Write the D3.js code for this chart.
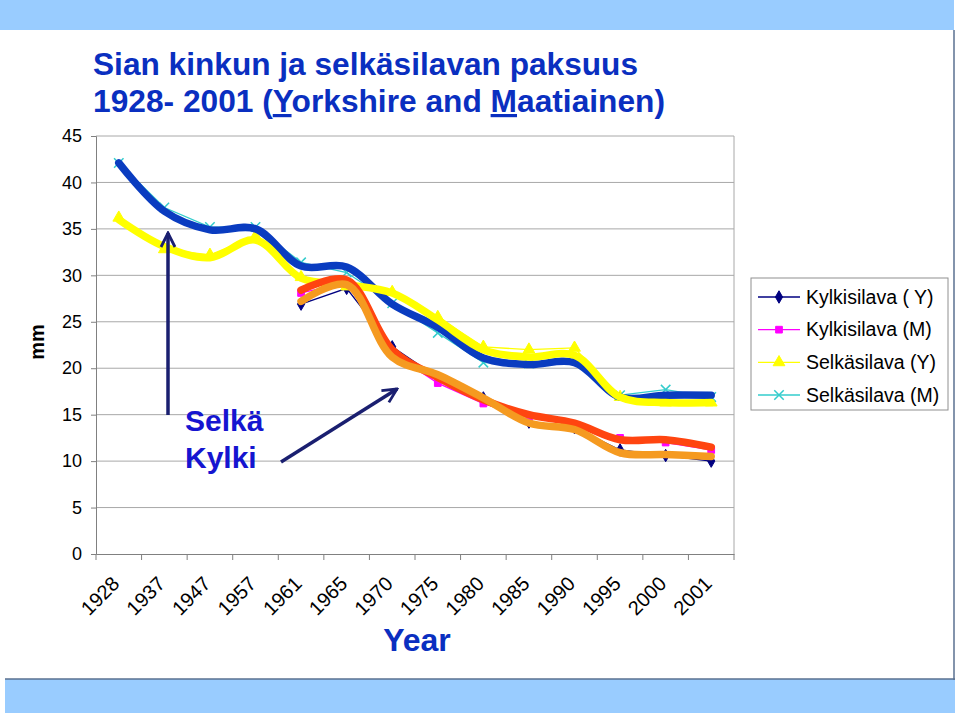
<!DOCTYPE html>
<html>
<head>
<meta charset="utf-8">
<script src="https://cdn.jsdelivr.net/npm/d3@7"></script>
<style>
  html, body { margin: 0; padding: 0; background: #ffffff; }
  svg { display: block; font-family: "Liberation Sans", Arial, sans-serif; }
</style>
</head>
<body>
<svg id="chart" width="960" height="716"></svg>
<script>
// ---------- data ----------
const years = ["1928","1937","1947","1957","1961","1965","1970","1975","1980","1985","1990","1995","2000","2001"];
const yTicks = [0,5,10,15,20,25,30,35,40,45];

// measured series (thin lines with markers)
const kylkiY  = [null,null,null,null,26.9,28.6,22.3,19.0,16.8,14.2,13.6,11.2,10.6,10.0];
const kylkiM  = [null,null,null,null,28.1,29.2,21.6,18.4,16.2,14.7,13.9,12.5,12.0,11.2];
const selkaY  = [36.2,32.8,32.2,34.2,29.8,28.8,28.2,25.5,22.3,22.0,22.2,16.9,16.3,16.3];
const selkaM  = [42.1,37.3,35.2,35.2,31.4,30.3,27.0,23.8,20.6,20.5,20.9,17.1,17.7,16.9];

// hand-drawn thick trend curves over the series
const trendSelkaM = [42.1,36.9,34.9,35.0,31.0,30.9,26.9,24.4,21.1,20.4,20.6,16.9,17.1,17.1];
const trendSelkaY = [36.0,33.1,31.9,33.8,29.7,29.0,28.1,25.2,22.0,21.2,21.4,16.9,16.3,16.3];
const trendKylkiM = [null,null,null,null,28.4,29.5,22.0,19.0,16.6,15.0,14.1,12.3,12.3,11.5];
const trendKylkiY = [null,null,null,null,27.2,29.0,21.2,19.3,16.8,14.1,13.4,10.9,10.7,10.5];

const seriesNames = ["Kylkisilava ( Y)","Kylkisilava (M)","Selkäsilava (Y)","Selkäsilava (M)"];

// ---------- drawing ----------
const svg = d3.select("#chart");

// slide frame
svg.append("rect").attr("x",0).attr("y",0).attr("width",954).attr("height",30).attr("fill","#99ccff");
svg.append("rect").attr("x",5).attr("y",679).attr("width",950).attr("height",34).attr("fill","#99ccff");
svg.append("line").attr("x1",954).attr("x2",954).attr("y1",30).attr("y2",680).attr("stroke","#5a7090").attr("stroke-width",1.5);
svg.append("line").attr("x1",5).attr("x2",955).attr("y1",679).attr("y2",679).attr("stroke","#5a7090").attr("stroke-width",1.5);

// title
const titleColor = "#0a2fc0";
svg.append("text").attr("x",93).attr("y",75).attr("fill",titleColor)
  .attr("font-size",32).attr("font-weight","bold")
  .attr("textLength",545).attr("lengthAdjust","spacingAndGlyphs")
  .text("Sian kinkun ja selkäsilavan paksuus");
const t2 = svg.append("text").attr("x",93).attr("y",112).attr("fill",titleColor)
  .attr("font-size",32).attr("font-weight","bold")
  .attr("textLength",572).attr("lengthAdjust","spacingAndGlyphs");
t2.append("tspan").text("1928- 2001 (");
t2.append("tspan").attr("text-decoration","underline").text("Y");
t2.append("tspan").text("orkshire and ");
t2.append("tspan").attr("text-decoration","underline").text("M");
t2.append("tspan").text("aatiainen)");

// scales
const x = d3.scaleBand().domain(years).range([96,734]);
const y = d3.scaleLinear().domain([0,45]).range([554,136]);
const cx = d => x(d) + x.bandwidth()/2;

// gridlines
svg.append("g").selectAll("line").data(yTicks.filter(v => v > 0)).join("line")
  .attr("x1",96).attr("x2",734).attr("y1",d=>y(d)).attr("y2",d=>y(d))
  .attr("stroke","#a8a8a8").attr("stroke-width",1);
// plot right border
svg.append("line").attr("x1",734).attr("x2",734).attr("y1",y(45)).attr("y2",y(0))
  .attr("stroke","#a8a8a8").attr("stroke-width",1);

// y axis
const yAxis = d3.axisLeft(y).tickValues(yTicks).tickSize(5).tickPadding(9);
const gy = svg.append("g").attr("transform","translate(96,0)").call(yAxis);
gy.select(".domain").attr("stroke","#808080");
gy.selectAll(".tick line").attr("stroke","#808080");
gy.selectAll("text").attr("font-size",18).attr("fill","#000").attr("font-family","Liberation Sans, Arial, sans-serif");

// x axis
const xAxis = d3.axisBottom(x).tickSize(0).tickFormat("");
const gx = svg.append("g").attr("transform","translate(0,554)").call(xAxis);
gx.select(".domain").attr("stroke","#808080");
// category boundary ticks
const bounds = years.map(d => x(d)).concat([734]);
svg.append("g").selectAll("line").data(bounds).join("line")
  .attr("x1",d=>d).attr("x2",d=>d).attr("y1",554).attr("y2",560)
  .attr("stroke","#808080");
// rotated labels
svg.append("g").selectAll("text").data(years).join("text")
  .attr("transform", d => `translate(${cx(d)-3},${580}) rotate(-45)`)
  .attr("text-anchor","end").attr("dy","0.35em")
  .attr("font-size",20).attr("fill","#000")
  .text(d => d);

// axis titles
svg.append("text").attr("x",417).attr("y",651).attr("text-anchor","middle")
  .attr("font-size",32).attr("font-weight","bold").attr("fill",titleColor).text("Year");
svg.append("text").attr("transform","translate(44,342) rotate(-90)").attr("text-anchor","middle")
  .attr("font-size",20).attr("font-weight","bold").attr("fill","#000").text("mm");

// thin series
const thinDefs = [
  {vals: kylkiY, color:"#000080", marker:"diamond"},
  {vals: kylkiM, color:"#ff00ff", marker:"square"},
  {vals: selkaY, color:"#ffff00", marker:"triangle"},
  {vals: selkaM, color:"#33cccc", marker:"cross"}
];
const lineStraight = d3.line().defined(d => d.v != null).x(d => cx(d.c)).y(d => y(d.v));
const symbolMap = {diamond: d3.symbolDiamond, square: d3.symbolSquare, triangle: d3.symbolTriangle, cross: d3.symbolX};
function markerPath(kind){ return d3.symbol().type(symbolMap[kind]).size(kind==="cross"?60:(kind==="triangle"?60:45))(); }

thinDefs.forEach(s => {
  const pts = years.map((c,i) => ({c, v: s.vals[i]}));
  svg.append("path").datum(pts).attr("d",lineStraight)
    .attr("fill","none").attr("stroke",s.color).attr("stroke-width",1.3);
  svg.append("g").selectAll("path").data(pts.filter(p => p.v != null)).join("path")
    .attr("transform", p => `translate(${cx(p.c)},${y(p.v)})`)
    .attr("d", markerPath(s.marker))
    .attr("fill", s.marker==="cross" ? "none" : s.color)
    .attr("stroke", s.color).attr("stroke-width", s.marker==="cross" ? 1.5 : 1);
});

// thick trend curves
const lineSmooth = d3.line().defined(d => d.v != null).x(d => cx(d.c)).y(d => y(d.v))
  .curve(d3.curveCatmullRom.alpha(0.5));
const thickDefs = [
  {vals: trendSelkaM, color:"#0a3cc0"},
  {vals: trendSelkaY, color:"#ffff00"},
  {vals: trendKylkiM, color:"#ff4510"},
  {vals: trendKylkiY, color:"#f59a20"}
];
thickDefs.forEach(s => {
  const pts = years.map((c,i) => ({c, v: s.vals[i]}));
  svg.append("path").datum(pts).attr("d",lineSmooth)
    .attr("fill","none").attr("stroke",s.color).attr("stroke-width",7.5)
    .attr("stroke-linecap","round").attr("stroke-linejoin","round");
});

// annotation arrows and text
const annColor = "#1a1f70";
const defs = svg.append("defs");
defs.append("marker").attr("id","arrowhead").attr("viewBox","0 0 10 10")
  .attr("refX",9).attr("refY",5).attr("markerWidth",5).attr("markerHeight",5)
  .attr("markerUnits","strokeWidth").attr("orient","auto")
  .append("path").attr("d","M1,1 L9,5 L1,9").attr("fill","none").attr("stroke",annColor).attr("stroke-width",1.6);
svg.append("line").attr("x1",168).attr("y1",415).attr("x2",168).attr("y2",233)
  .attr("stroke",annColor).attr("stroke-width",3.5).attr("marker-end","url(#arrowhead)");
svg.append("line").attr("x1",281).attr("y1",462).attr("x2",397).attr("y2",389)
  .attr("stroke",annColor).attr("stroke-width",3.5).attr("marker-end","url(#arrowhead)");
svg.append("text").attr("x",185).attr("y",431).attr("font-size",30).attr("font-weight","bold")
  .attr("fill","#1515d0").text("Selkä");
svg.append("text").attr("x",185).attr("y",468).attr("font-size",30).attr("font-weight","bold")
  .attr("fill","#1515d0").text("Kylki");

// legend
const lg = svg.append("g");
lg.append("rect").attr("x",751).attr("y",278).attr("width",197).attr("height",132)
  .attr("fill","#fff").attr("stroke","#909090").attr("stroke-width",1);
const legY = d3.scalePoint().domain(seriesNames).range([297,395]);
seriesNames.forEach((name,i) => {
  const s = thinDefs[i];
  const yy = legY(name);
  lg.append("line").attr("x1",758).attr("x2",800).attr("y1",yy).attr("y2",yy)
    .attr("stroke",s.color).attr("stroke-width",1.3);
  lg.append("path").attr("transform",`translate(779,${yy})`).attr("d",markerPath(s.marker))
    .attr("fill", s.marker==="cross" ? "none" : s.color)
    .attr("stroke", s.color).attr("stroke-width", s.marker==="cross" ? 1.5 : 1);
  lg.append("text").attr("x",806).attr("y",yy).attr("dy","0.35em")
    .attr("font-size",19.5).attr("fill","#000").text(name);
});
</script>
</body>
</html>
